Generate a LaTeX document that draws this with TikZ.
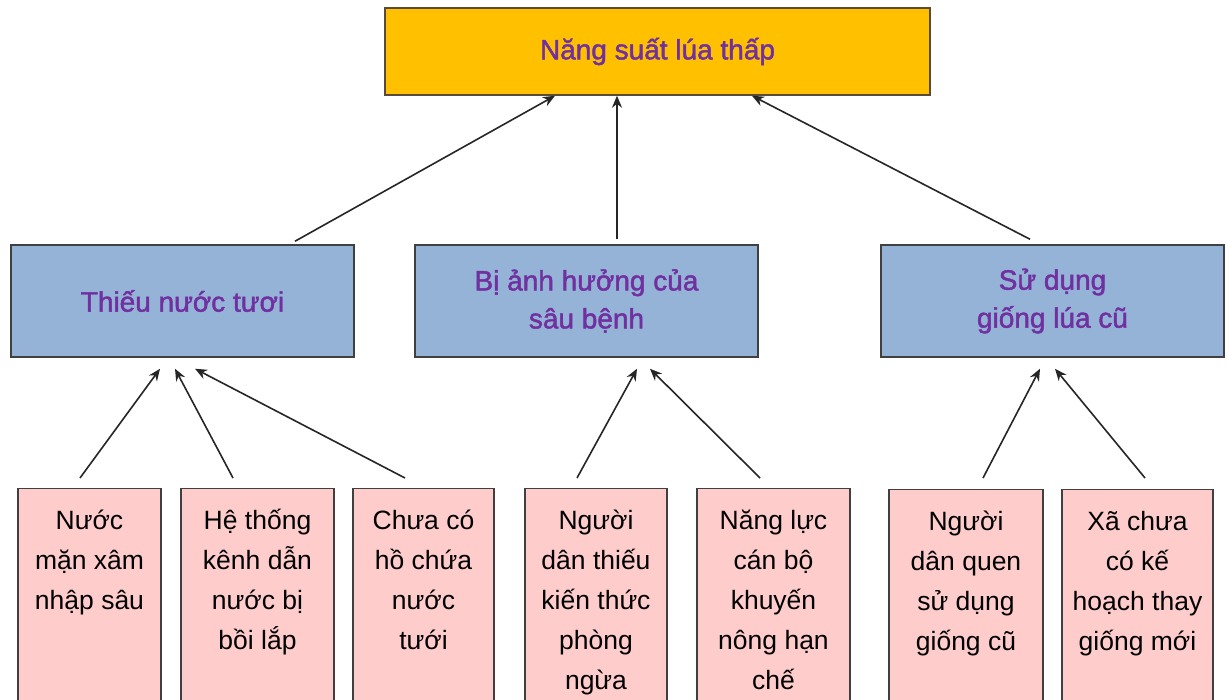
\documentclass[tikz,border=0pt]{standalone}
\usepackage{fontspec}
\setmainfont{Liberation Sans}
\newfontfamily\purplefont[FakeBold=1.6]{Liberation Sans}
\usetikzlibrary{arrows.meta}
\definecolor{topfill}{HTML}{FFC000}
\definecolor{midfill}{HTML}{95B3D7}
\definecolor{lowfill}{HTML}{FFCCCC}
\definecolor{txtpurple}{HTML}{7030A0}
\definecolor{edgegray}{HTML}{404040}
\definecolor{topedge}{HTML}{5A4A3A}
\begin{document}
\begin{tikzpicture}[x=1pt,y=-1pt,
 topbox/.style={draw=topedge, line width=1.5pt, fill=topfill, minimum width=545pt, minimum height=87pt, inner sep=0pt, text=txtpurple, font=\purplefont\fontsize{28}{34}\selectfont},
 midbox/.style={draw=edgegray, line width=1.5pt, fill=midfill, minimum width=343pt, minimum height=112pt, inner sep=0pt, text=txtpurple, align=center, font=\purplefont\fontsize{28}{38}\selectfont},
 lowbox/.style={draw=edgegray, line width=1.5pt, fill=lowfill, anchor=north, inner sep=0pt, minimum height=222pt},
 lowtext/.style={anchor=north, align=center, inner sep=0pt, font=\fontsize{26.5}{40}\selectfont},
 arr/.style={draw=black!85, line width=1.6pt, -{Stealth[length=12pt,width=10pt]}}
]
\useasboundingbox (0,0) rectangle (1227,700);
\fill[white] (0,0) rectangle (1227,700);

\node[topbox] (top) at (657.5,51.5) {Năng suất lúa thấp};

\node[midbox] (m1) at (182.5,301) {Thiếu nước tươi};
\node[midbox] (m2) at (586.5,301) {Bị ảnh hưởng của\\sâu bệnh};
\node[midbox] (m3) at (1052.5,301) {Sử dụng\\giống lúa cũ};

\node[lowbox, minimum width=143pt] (b1) at (89.5,488) {};
\node[lowbox, minimum width=153pt] (b2) at (257.5,488) {};
\node[lowbox, minimum width=141pt] (b3) at (423.5,488) {};
\node[lowbox, minimum width=142pt] (b4) at (596,488) {};
\node[lowbox, minimum width=153pt] (b5) at (773.5,488) {};
\node[lowbox, minimum width=154pt] (b6) at (966,489) {};
\node[lowbox, minimum width=151pt] (b7) at (1137.5,489) {};

\node[lowtext] (t1) at ([yshift=-13pt]b1.north) {\strut Nước\\mặn xâm\\nhập sâu};
\node[lowtext] (t2) at ([yshift=-13pt]b2.north) {\strut Hệ thống\\kênh dẫn\\nước bị\\bồi lắp};
\node[lowtext] (t3) at ([yshift=-13pt]b3.north) {\strut Chưa có\\hồ chứa\\nước\\tưới};
\node[lowtext] (t4) at ([yshift=-13pt]b4.north) {\strut Người\\dân thiếu\\kiến thức\\phòng\\ngừa};
\node[lowtext] (t5) at ([yshift=-13pt]b5.north) {\strut Năng lực\\cán bộ\\khuyến\\nông hạn\\chế};
\node[lowtext] (t6) at ([yshift=-13pt]b6.north) {\strut Người\\dân quen\\sử dụng\\giống cũ};
\node[lowtext] (t7) at ([yshift=-13pt]b7.north) {\strut Xã chưa\\có kế\\hoạch thay\\giống mới};

\draw[arr] ([xshift=112.5pt,yshift=3pt]m1.north) -- ([xshift=-102.5pt]top.south);
\draw[arr] ([xshift=30.5pt,yshift=5pt]m2.north) -- ([xshift=-40.5pt]top.south);
\draw[arr] ([xshift=-22.5pt,yshift=5pt]m3.north) -- ([xshift=94.5pt]top.south);

\draw[arr] ([xshift=-9.5pt,yshift=10pt]b1.north) -- ([xshift=-22.5pt,yshift=-11pt]m1.south);
\draw[arr] ([xshift=-24.5pt,yshift=10pt]b2.north) -- ([xshift=-7.5pt,yshift=-11pt]m1.south);
\draw[arr] ([xshift=-18.5pt,yshift=10pt]b3.north) -- ([xshift=12.5pt,yshift=-11pt]m1.south);
\draw[arr] ([xshift=-19pt,yshift=10pt]b4.north) -- ([xshift=50.5pt,yshift=-11pt]m2.south);
\draw[arr] ([xshift=-13.5pt,yshift=10pt]b5.north) -- ([xshift=63.5pt,yshift=-11pt]m2.south);
\draw[arr] ([xshift=17pt,yshift=11pt]b6.north) -- ([xshift=-12.5pt,yshift=-11pt]m3.south);
\draw[arr] ([xshift=7.5pt,yshift=11pt]b7.north) -- ([xshift=2.5pt,yshift=-11pt]m3.south);
\end{tikzpicture}
\end{document}
